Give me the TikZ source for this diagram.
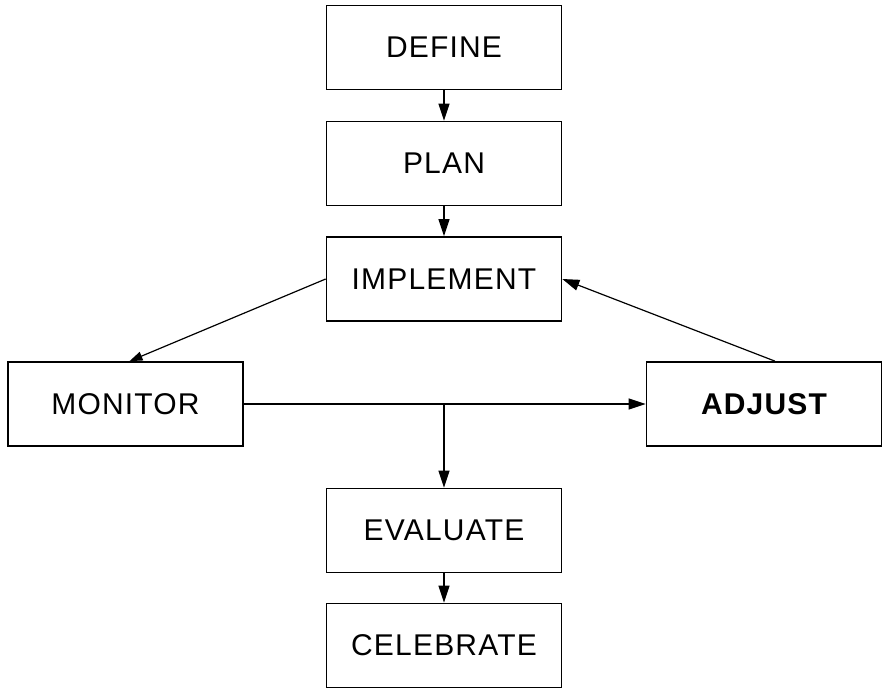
\documentclass[tikz,border=0pt]{standalone}
\usepackage{fontspec}
\setmainfont{Liberation Sans}[LetterSpace=4]
\usetikzlibrary{arrows.meta,calc}
\begin{document}
\begin{tikzpicture}[x=1pt,y=-1pt,
  stepbox/.style={draw,line width=1.7pt,minimum width=235pt,minimum height=84pt,inner sep=0pt,font=\fontsize{30}{34}\selectfont,anchor=center},
  conn/.style={line width=1.2pt,-{Triangle[length=17pt,width=11pt]}},
  connsmall/.style={line width=1.2pt,-{Triangle[length=13pt,width=9pt]}}]
\useasboundingbox (0,0) rectangle (882,689);
\node[stepbox] (define) at (444,47.5) {DEFINE};
\node[stepbox] (plan) at (444,163.5) {PLAN};
\node[stepbox] (implement) at (444,279) {IMPLEMENT};
\node[stepbox] (monitor) at (125.5,404) {MONITOR};
\node[stepbox,font=\fontsize{30}{34}\selectfont\bfseries] (adjust) at (764,404) {ADJUST};
\node[stepbox] (evaluate) at (444,530.5) {EVALUATE};
\node[stepbox] (celebrate) at (444,645.5) {CELEBRATE};
\coordinate (junction) at (evaluate.north |- monitor.east);
\draw[conn] (define) -- (plan);
\draw[conn] (plan) -- (implement);
\draw[connsmall] (implement.west) -- ([xshift=4pt]monitor.north);
\draw[conn] ([xshift=11pt]adjust.north) -- (implement.east);
\draw[conn] (monitor.east) -- (adjust.west);
\draw[conn] (junction) -- (evaluate.north);
\draw[conn] (evaluate) -- (celebrate);
\end{tikzpicture}
\end{document}
